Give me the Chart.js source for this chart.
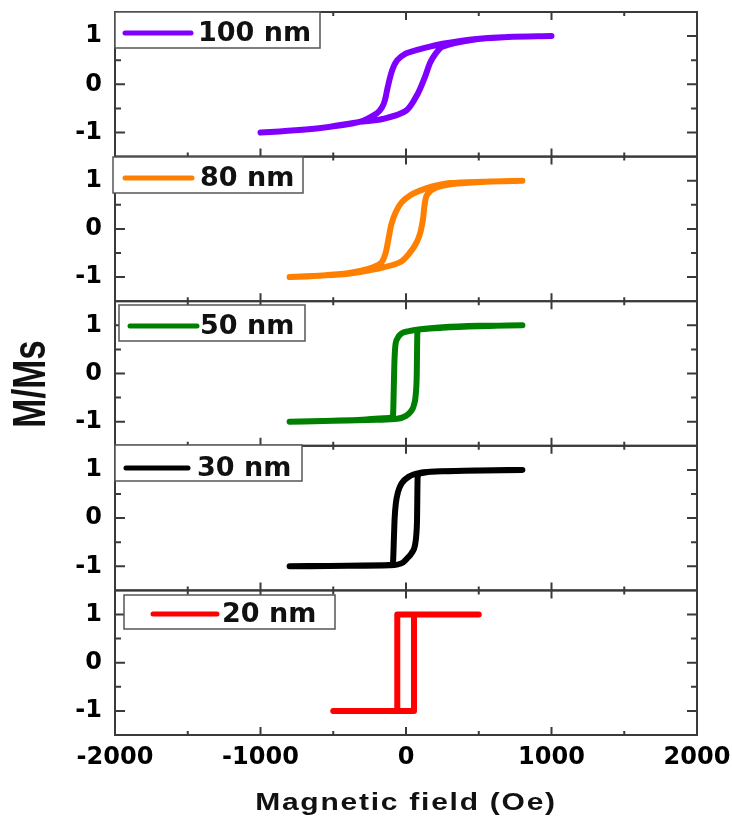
<!DOCTYPE html>
<html>
<head>
<meta charset="utf-8">
<script src="https://cdn.jsdelivr.net/npm/chart.js@4"></script>
<style>
  body { margin: 0; background: #fff; }
  canvas { display: block; }
</style>
</head>
<body>
<canvas id="loops" width="732" height="818"></canvas>
<script>
// panels, top to bottom
const samples = ['100 nm', '80 nm', '50 nm', '30 nm', '20 nm'];
const colors = ['#8000ff', '#ff8000', '#008000', '#000000', '#ff0000'];

const xTicks = [-2000, -1000, 0, 1000, 2000];
const xMinorTicks = [-1500, -500, 500, 1500];
const yTicks = [-1, 0, 1];
const yMinorTicks = [-0.5, 0.5];

// each loop: descending branch, then ascending branch (Oe, M/Ms)
const field100 = [1000, 700, 450, 250, 150, 60, 0, -60, -95, -125, -145, -165, -200, -320, -600, -1000,
                  -600, -320, -160, 0, 80, 130, 165, 200, 250, 450, 700, 1000];
const moment100 = [1.0, 0.98, 0.93, 0.84, 0.77, 0.7, 0.64, 0.5, 0.29, -0.05, -0.33, -0.48, -0.6, -0.78, -0.91, -1.0,
                   -0.91, -0.78, -0.72, -0.55, -0.2, 0.15, 0.44, 0.62, 0.78, 0.92, 0.98, 1.0];

const field80 = [800, 530, 300, 180, 100, 30, -30, -70, -100, -120, -140, -170, -260, -400, -600, -800,
                 -600, -400, -200, -40, 30, 75, 100, 118, 128, 145, 210, 350, 550, 800];
const moment80 = [1.0, 0.98, 0.95, 0.88, 0.8, 0.7, 0.55, 0.35, 0.1, -0.2, -0.5, -0.7, -0.83, -0.92, -0.97, -1.0,
                  -0.97, -0.93, -0.83, -0.69, -0.48, -0.27, -0.06, 0.23, 0.5, 0.71, 0.86, 0.94, 0.98, 1.0];

const field50 = [800, 500, 250, 100, 20, -30, -60, -74, -80, -84, -87, -90, -150, -300, -500, -800,
                 -500, -200, -60, 0, 30, 55, 68, 74, 76, 78, 100, 250, 500, 800];
const moment50 = [1.0, 0.99, 0.96, 0.92, 0.88, 0.83, 0.72, 0.55, 0.2, -0.3, -0.7, -0.9, -0.93, -0.96, -0.98, -1.0,
                  -0.98, -0.96, -0.94, -0.88, -0.8, -0.65, -0.4, 0.0, 0.5, 0.85, 0.92, 0.95, 0.98, 1.0];

const field30 = [800, 500, 250, 100, 20, -30, -55, -70, -78, -84, -88, -92, -150, -400, -800,
                 -400, -110, -20, 10, 40, 62, 72, 76, 78, 80, 100, 165, 400, 800];
const moment30 = [1.0, 0.99, 0.97, 0.94, 0.86, 0.72, 0.54, 0.3, 0.0, -0.5, -0.85, -0.96, -0.98, -0.99, -1.0,
                  -0.99, -0.98, -0.92, -0.83, -0.72, -0.56, -0.3, 0.0, 0.5, 0.85, 0.93, 0.96, 0.98, 1.0];

const field20 = [500, -60, -60, -500, 55, 55, 500];
const moment20 = [1, 1, -1, -1, -1, 1, 1];

const fields = [field100, field80, field50, field30, field20];
const moments = [moment100, moment80, moment50, moment30, moment20];

// legend box placement per panel (px)
const legendLayout = [
  { x: 115, y: 12, w: 205, h: 36, l0: 10, l1: 76, tx: 83, mid: 21 },
  { x: 113, y: 157, w: 190, h: 36, l0: 12, l1: 79, tx: 87, mid: 21 },
  { x: 119, y: 305, w: 186, h: 36, l0: 11, l1: 78, tx: 81, mid: 21 },
  { x: 115, y: 445, w: 187, h: 36, l0: 11, l1: 73, tx: 82, mid: 23 },
  { x: 124, y: 595, w: 211, h: 34, l0: 29, l1: 93, tx: 98, mid: 19 }
];

const tickFont = { family: "'DejaVu Sans'", weight: 'bold', size: 24 };
const axisIds = samples.map((s, i) => 'y' + i);

const datasets = samples.map((name, i) => ({
  label: name,
  data: fields[i].map((h, k) => ({ x: h, y: moments[i][k] })),
  yAxisID: axisIds[i],
  borderColor: colors[i],
  borderWidth: 6,
  borderCapStyle: 'round',
  borderJoinStyle: 'round',
  pointRadius: 0,
  cubicInterpolationMode: (i === 2 || i === 3) ? 'monotone' : 'default',
  tension: i < 2 ? 0.3 : 0
}));

const noPad = s => { s.paddingTop = 0; s.paddingBottom = 0; s.paddingLeft = 0; s.paddingRight = 0; };

const scales = {
  x: {
    type: 'linear',
    position: 'bottom',
    min: -2000,
    max: 2000,
    afterBuildTicks: s => { s.ticks = xTicks.map(v => ({ value: v })); },
    afterFit: s => { s.height = 83; noPad(s); },
    ticks: { font: tickFont, color: '#000', padding: 8, callback: v => String(v) },
    grid: { display: false, drawTicks: false },
    border: { display: false }
  }
};
// left boxes get placed last-defined-first, so add bottom panel first
for (let i = samples.length - 1; i >= 0; i--) {
  scales[axisIds[i]] = {
    type: 'linear',
    position: 'left',
    stack: 'panels',
    stackWeight: 1,
    min: -1.5,
    max: 1.5,
    afterBuildTicks: s => { s.ticks = yTicks.map(v => ({ value: v })); },
    afterFit: s => { s.width = 115; noPad(s); },
    ticks: { font: tickFont, color: '#000', padding: 13, callback: v => String(v) },
    grid: { display: false, drawTicks: false },
    border: { display: false }
  };
}

const framePlugin = {
  id: 'frames',
  afterDraw(chart) {
    const ctx = chart.ctx;
    const area = chart.chartArea;
    const xs = chart.scales.x;
    ctx.save();
    axisIds.forEach((id, i) => {
      const s = chart.scales[id];
      const top = s.top, bottom = s.bottom;
      ctx.strokeStyle = '#3a3a3a';
      ctx.lineWidth = 2;
      ctx.strokeRect(area.left, top, area.right - area.left, bottom - top);
      ctx.beginPath();
      const yt = (v, len) => {
        const p = s.getPixelForValue(v);
        ctx.moveTo(area.left, p); ctx.lineTo(area.left + len, p);
        ctx.moveTo(area.right, p); ctx.lineTo(area.right - len, p);
      };
      yTicks.forEach(v => yt(v, 10));
      yMinorTicks.forEach(v => yt(v, 6));
      const xt = (v, len) => {
        const p = xs.getPixelForValue(v);
        ctx.moveTo(p, top); ctx.lineTo(p, top + len);
        ctx.moveTo(p, bottom); ctx.lineTo(p, bottom - len);
      };
      xTicks.slice(1, -1).forEach(v => xt(v, 8));
      xMinorTicks.forEach(v => xt(v, 4));
      ctx.stroke();

      // legend box
      const L = legendLayout[i];
      ctx.fillStyle = '#fff';
      ctx.fillRect(L.x, L.y, L.w, L.h);
      ctx.lineWidth = 1.5;
      ctx.strokeStyle = '#555';
      ctx.strokeRect(L.x, L.y, L.w, L.h);
      ctx.beginPath();
      ctx.strokeStyle = colors[i];
      ctx.lineWidth = 5;
      ctx.lineCap = 'round';
      ctx.moveTo(L.x + L.l0, L.y + L.mid);
      ctx.lineTo(L.x + L.l1, L.y + L.mid);
      ctx.stroke();
      ctx.lineCap = 'butt';
      ctx.fillStyle = '#111';
      ctx.font = "bold 27px 'DejaVu Sans'";
      ctx.textAlign = 'left';
      ctx.textBaseline = 'middle';
      ctx.fillText(samples[i], L.x + L.tx, L.y + L.mid + 1);
    });

    // axis titles (the source figure is stretched sideways)
    ctx.fillStyle = '#111';
    ctx.textAlign = 'center';
    ctx.textBaseline = 'middle';
    ctx.save();
    ctx.translate((area.left + area.right) / 2, 803);
    ctx.scale(1.25, 1);
    ctx.font = "bold 24px 'Liberation Sans'";
    ctx.letterSpacing = '1.4px';
    ctx.fillText('Magnetic field (Oe)', 0, 0);
    ctx.restore();
    ctx.translate(32, 384);
    ctx.rotate(-Math.PI / 2);
    ctx.scale(1, 1.32);
    ctx.font = "bold 35px 'Liberation Sans'";
    ctx.fillText('M/Ms', 0, 0);
    ctx.restore();
  }
};

const ctx = document.getElementById('loops').getContext('2d');
const loopChart = new Chart(ctx, {
  type: 'line',
  data: { datasets: datasets },
  options: {
    responsive: false,
    animation: false,
    layout: { padding: { top: 12, right: 35, left: 0, bottom: 0 } },
    scales: scales,
    plugins: { legend: { display: false }, tooltip: { enabled: false } }
  },
  plugins: [framePlugin]
});
</script>
</body>
</html>
